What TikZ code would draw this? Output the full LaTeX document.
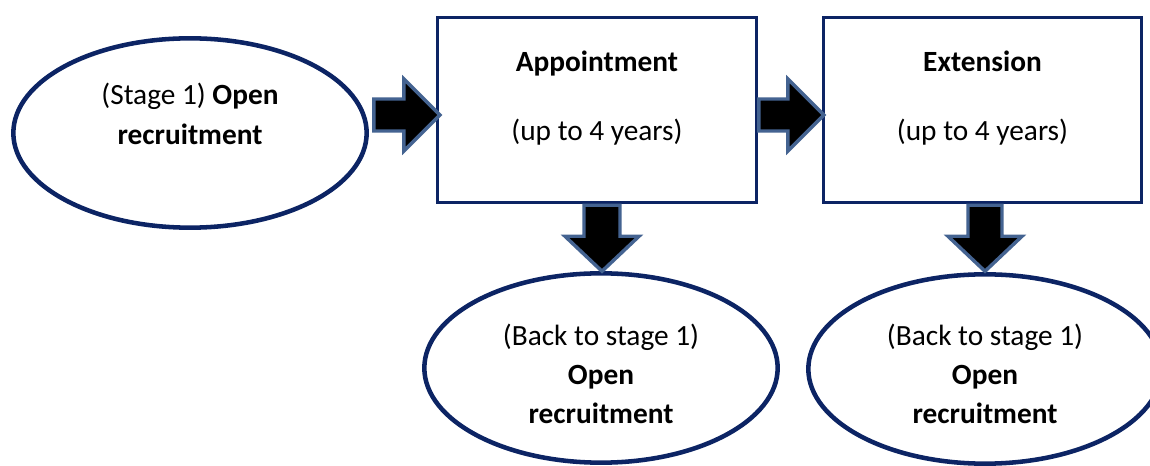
\documentclass[tikz,border=0pt]{standalone}
\usepackage{fontspec}
\setmainfont{Carlito}
\usepackage{xcolor}
\usepackage{tikz}
\usetikzlibrary{shapes,positioning,calc}

\definecolor{navy}{RGB}{12,36,100}
\definecolor{steel}{RGB}{68,99,145}

\tikzset{
  oval/.style={ellipse, draw=navy, line width=3.4pt, minimum width=265pt, minimum height=142pt, inner sep=0pt},
  stagebox/.style={rectangle, draw=navy, line width=2.4pt, minimum width=239pt, minimum height=139pt, inner sep=0pt},
  lbl/.style={align=center, font=\fontsize{22}{29.5}\selectfont, inner sep=0pt},
  blockarrow/.style={draw=steel, fill=black, line width=2.6pt, line join=miter}
}

\begin{document}
\begin{tikzpicture}[x=0.75pt, y=-0.75pt]
    \clip (0,0) rectangle (1150,466);

    % stages
    \node [oval] (open) at (190,133) {};
    \node [stagebox] (appt) at (597,110) {};
    \node [stagebox] (ext) at (982.5,110) {};
    \node [oval] (back1) at (601,368) {};
    \node [oval] (back2) at (985,369) {};

    % texts
    \node [lbl] (opentxt) at (190,114) {(Stage 1) \textbf{Open}\\ \textbf{recruitment}};
    \node [lbl, anchor=base] (appttitle) at (597,72) {\textbf{Appointment}};
    \node [lbl, anchor=base] (apptyears) at (597,141) {(up to 4 years)};
    \node [lbl, anchor=base] (exttitle) at (982.5,72) {\textbf{Extension}};
    \node [lbl, anchor=base] (extyears) at (982.5,141) {(up to 4 years)};
    \node [lbl] (back1txt) at (601,374) {(Back to stage 1)\\ \textbf{Open}\\ \textbf{recruitment}};
    \node [lbl] (back2txt) at (985,374) {(Back to stage 1)\\ \textbf{Open}\\ \textbf{recruitment}};

    % block arrows
    \coordinate (r1) at ($(open.east)+(5,-18)$);
    \coordinate (r2) at ($(appt.east)+(1,5)$);
    \coordinate (d1) at ($(appt.south)+(5,1)$);
    \coordinate (d2) at ($(ext.south)+(2.5,1)$);

    \draw [blockarrow] (r1) ++(0,-16) -- ++(30,0) -- ++(0,-20) -- ++(36,36) -- ++(-36,36) -- ++(0,-20) -- ++(-30,0) -- cycle;
    \draw [blockarrow] (r2) ++(0,-16) -- ++(29,0) -- ++(0,-20) -- ++(36,36) -- ++(-36,36) -- ++(0,-20) -- ++(-29,0) -- cycle;
    \draw [blockarrow] (d1) ++(-18,0) -- ++(0,31) -- ++(-19,0) -- ++(37,35) -- ++(37,-35) -- ++(-19,0) -- ++(0,-31) -- cycle;
    \draw [blockarrow] (d2) ++(-17,0) -- ++(0,31) -- ++(-20,0) -- ++(37,35) -- ++(37,-35) -- ++(-20,0) -- ++(0,-31) -- cycle;
\end{tikzpicture}
\end{document}
